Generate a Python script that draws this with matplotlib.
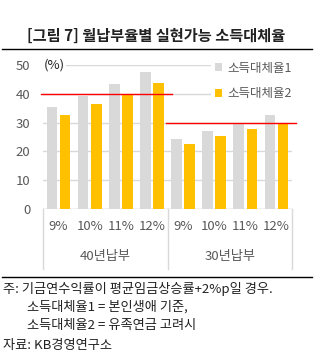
import matplotlib
matplotlib.use("Agg")
import matplotlib.pyplot as plt
from matplotlib.lines import Line2D
import matplotlib.transforms as mtransforms

plt.rcParams['font.family'] = ['Noto Sans CJK KR', 'DejaVu Sans']

# data
rates = ['9%', '10%', '11%', '12%', '9%', '10%', '11%', '12%']
groups = ['40년납부', '30년납부']
ratio1 = [35.4, 39.2, 43.3, 47.4, 24.3, 27.1, 29.9, 32.5]   # 소득대체율1
ratio2 = [32.8, 36.3, 40.0, 43.8, 22.5, 25.2, 27.7, 29.9]   # 소득대체율2
ref_levels = [40, 30]
ref_spans = [(-0.56, 3.65), (3.45, 7.63)]

title = '[그림 7] 월납부율별 실현가능 소득대체율'
notes = ['주: 기금연수익률이 평균임금상승률+2%p일 경우.',
         '소득대체율1 = 본인생애 기준,',
         '소득대체율2 = 유족연금 고려시',
         '자료: KB경영연구소']

W, H = 323, 362
fig = plt.figure(figsize=(W / 100, H / 100), dpi=100)
ax = fig.add_axes([43 / W, 1 - 209 / H, 249 / W, 144 / H])

grey = '#D9D9D9'
gold = '#FFC000'
txt = '#595959'

x = list(range(len(rates)))
bw = 0.34
b1 = ax.bar([i - 0.21 for i in x], ratio1, width=bw, color=grey, zorder=2, label='소득대체율1')
b2 = ax.bar([i + 0.21 for i in x], ratio2, width=bw, color=gold, zorder=2, label='소득대체율2')

for lvl, (x0, x1) in zip(ref_levels, ref_spans):
    ax.plot([x0, x1], [lvl, lvl], color='#FF0000', lw=1.0, zorder=3, clip_on=False)

ax.set_xlim(-0.5, 7.5)
ax.set_ylim(0, 50)
ax.set_yticks(range(0, 51, 10))
ax.yaxis.grid(True, color=grey, lw=1.0, zorder=0)
ax.set_axisbelow(True)
for s in ax.spines.values():
    s.set_visible(False)
ax.axhline(0, color=grey, lw=1.0, zorder=1)

ax.set_xticks(x)
ax.set_xticklabels(rates)
ax.tick_params(axis='both', length=0, colors=txt, labelsize=9.5)
ax.tick_params(axis='y', pad=9)
ax.tick_params(axis='x', pad=8)

# category separators and group labels
trans = mtransforms.blended_transform_factory(ax.transData, ax.transAxes)
for xs in [-0.5, 3.5, 7.5]:
    ax.add_artist(Line2D([xs, xs], [0, -0.417], transform=trans, color=grey, lw=1.0, clip_on=False))
for gi, g in enumerate(groups):
    ax.text(gi * 4 + 1.5, -0.333, g, transform=trans, ha='center', va='center', color=txt, fontsize=9.5)

t_pct = ax.text(-0.48, 50, '(%)', ha='left', va='center', fontsize=9.5, color='#222222')
t_pct.set_bbox(dict(facecolor='white', edgecolor='none', pad=1))

leg = ax.legend(handles=[b1, b2], loc='upper left', bbox_to_anchor=(211 / W, 1 - 58 / H),
                bbox_transform=fig.transFigure, frameon=True, fontsize=9,
                handlelength=0.6, handleheight=0.6, handletextpad=0.4,
                labelspacing=1.0, borderpad=0.3, borderaxespad=0)
leg.get_frame().set_facecolor('white')
leg.get_frame().set_edgecolor('none')
leg.get_frame().set_alpha(1)
for t in leg.get_texts():
    t.set_color(txt)

fig.text(156 / W, 1 - 36 / H, title, ha='center', va='center', fontsize=11, fontweight='bold', color='#222222')
fig.add_artist(Line2D([2 / W, 312 / W], [1 - 49 / H, 1 - 49 / H], color='black', lw=1.0))
fig.add_artist(Line2D([2 / W, 312 / W], [1 - 277 / H, 1 - 277 / H], color='black', lw=1.0))

for line, xx, yy in zip(notes, [3, 27, 27, 3], [289, 307, 326, 345]):
    fig.text(xx / W, 1 - yy / H, line, ha='left', va='center', fontsize=9.5, color='#222222')

fig.savefig('out.png', dpi=100)
